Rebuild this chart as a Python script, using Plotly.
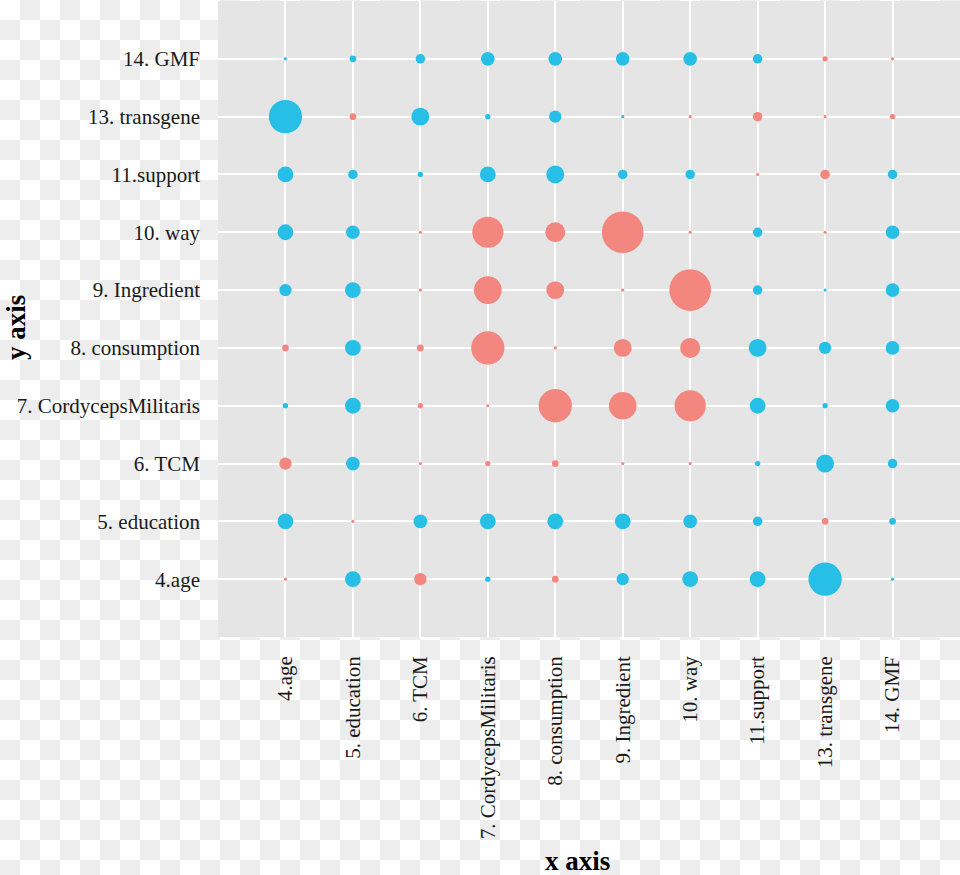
import base64
import plotly.graph_objects as go

# Variables (x order left->right, y order bottom->top)
x_labels = ["4.age", "5. education", "6. TCM", "7. CordycepsMilitaris", "8. consumption",
            "9. Ingredient", "10. way", "11.support", "13. transgene", "14. GMF"]
y_labels = ["4.age", "5. education", "6. TCM", "7. CordycepsMilitaris", "8. consumption",
            "9. Ingredient", "10. way", "11.support", "13. transgene", "14. GMF"]

# Estimated coefficients per y row (values along x_labels); sign -> colour, magnitude -> size
row_age = [-0.01, 0.19, -0.14, 0.04, -0.06, 0.14, 0.19, 0.19, 0.44, 0.01]
row_education = [0.19, -0.01, 0.16, 0.19, 0.19, 0.19, 0.16, 0.10, -0.06, 0.06]
row_tcm = [-0.14, 0.16, -0.01, -0.04, -0.06, -0.01, -0.01, 0.04, 0.22, 0.10]
row_cordyceps = [0.04, 0.19, -0.04, -0.01, -0.44, -0.36, -0.41, 0.19, 0.04, 0.16]
row_consumption = [-0.06, 0.19, -0.06, -0.44, -0.01, -0.22, -0.25, 0.22, 0.14, 0.16]
row_ingredient = [0.14, 0.19, -0.01, -0.36, -0.22, -0.01, -0.56, 0.10, 0.01, 0.16]
row_way = [0.19, 0.16, -0.01, -0.41, -0.25, -0.56, -0.01, 0.10, -0.01, 0.16]
row_support = [0.19, 0.10, 0.04, 0.19, 0.22, 0.10, 0.10, -0.01, -0.10, 0.10]
row_transgene = [0.44, -0.06, 0.22, 0.04, 0.14, 0.01, -0.01, -0.10, -0.01, -0.04]
row_gmf = [0.01, 0.06, 0.10, 0.16, 0.16, 0.16, 0.16, 0.10, -0.04, -0.01]

rows = [row_age, row_education, row_tcm, row_cordyceps, row_consumption,
        row_ingredient, row_way, row_support, row_transgene, row_gmf]

POS_COLOR = "#27BFE6"
NEG_COLOR = "#F3877F"
SERIF = "Liberation Serif, Times New Roman, serif"

xs, ys, vals = [], [], []
for yl, row in zip(y_labels, rows):
    for xl, v in zip(x_labels, row):
        xs.append(xl)
        ys.append(yl)
        vals.append(v)

sizes = [2.5 + 70 * abs(v) for v in vals]
colors = [POS_COLOR if v > 0 else NEG_COLOR for v in vals]

fig = go.Figure()
fig.add_trace(go.Scatter(
    x=xs, y=ys, mode="markers",
    marker=dict(size=sizes, sizemode="diameter", color=colors, opacity=1,
                line=dict(width=0)),
    customdata=vals,
    hovertemplate="%{x} / %{y}: %{customdata}<extra></extra>",
    showlegend=False,
))

W, H = 960, 875
panel_l, panel_r, panel_t, panel_b = 218, 960, 1, 637

# transparent-style checkerboard backdrop
svg = ("<svg xmlns='http://www.w3.org/2000/svg' width='960' height='875'>"
       "<defs><pattern id='p' width='40' height='40' patternUnits='userSpaceOnUse'>"
       "<rect width='40' height='40' fill='#ffffff'/>"
       "<rect x='20' y='0' width='20' height='20' fill='#ededed'/>"
       "<rect x='0' y='20' width='20' height='20' fill='#ededed'/>"
       "</pattern></defs><rect width='960' height='875' fill='url(#p)'/></svg>")
src = "data:image/svg+xml;base64," + base64.b64encode(svg.encode()).decode()

fig.update_layout(
    width=W, height=H,
    margin=dict(l=0, r=0, t=0, b=0, pad=0),
    paper_bgcolor="white",
    plot_bgcolor="rgba(0,0,0,0)",
    font=dict(family=SERIF, color="#1a1a1a"),
    images=[dict(source=src, xref="paper", yref="paper", x=0, y=1, sizex=1, sizey=1,
                 xanchor="left", yanchor="top", sizing="stretch", layer="below")],
    shapes=[dict(type="rect", xref="x domain", yref="y domain", x0=0, x1=1, y0=0, y1=1,
                 fillcolor="#E5E5E5", line=dict(width=0), layer="below")],
    xaxis=dict(
        domain=[panel_l / W, panel_r / W],
        type="category", categoryorder="array", categoryarray=x_labels,
        range=[-1, 10], showgrid=True, gridcolor="white", gridwidth=1.5,
        zeroline=False, showline=False, ticks="", tickangle=-90,
        ticklabelstandoff=14, automargin=False,
        tickfont=dict(family=SERIF, size=21, color="#1a1a1a"),
    ),
    yaxis=dict(
        domain=[1 - panel_b / H, 1 - panel_t / H],
        type="category", categoryorder="array", categoryarray=y_labels,
        range=[-1, 10], showgrid=True, gridcolor="white", gridwidth=1.5,
        zeroline=False, showline=False, ticks="",
        ticklabelstandoff=17, automargin=False,
        tickfont=dict(family=SERIF, size=21, color="#1a1a1a"),
    ),
    annotations=[
        dict(text="<b>x axis</b>", xref="paper", yref="paper", x=577 / W, y=-3 / H,
             xanchor="center", yanchor="bottom", showarrow=False,
             font=dict(family=SERIF, size=27, color="black")),
        dict(text="<b>y axis</b>", xref="paper", yref="paper", x=16 / W, y=1 - 328 / H,
             xanchor="center", yanchor="middle", showarrow=False, textangle=-90,
             font=dict(family=SERIF, size=27, color="black")),
    ],
)

fig.write_html(
    "out.html",
    config={"displayModeBar": False},
    post_script="document.body.style.margin='0';document.body.style.overflow='hidden';",
)
